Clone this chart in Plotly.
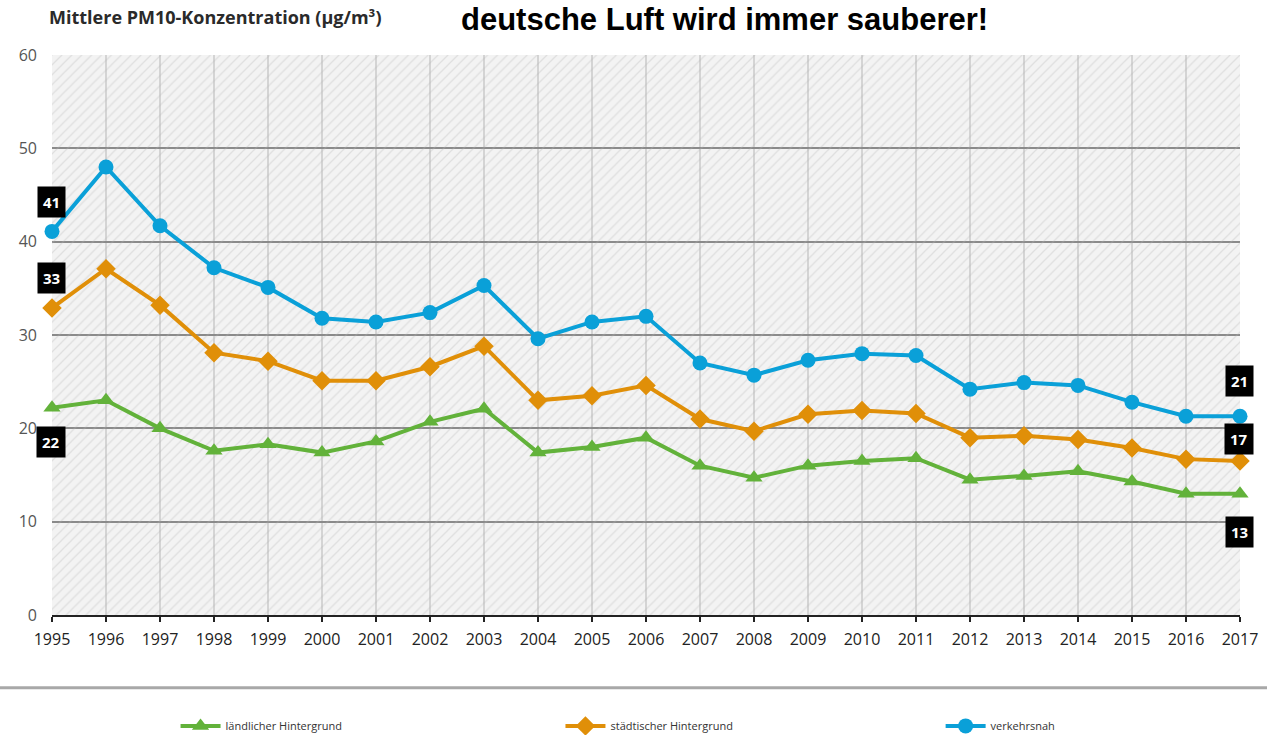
import plotly.graph_objects as go

years = list(range(1995, 2018))
verkehrsnah = [41.1, 48.0, 41.7, 37.2, 35.1, 31.8, 31.4, 32.4, 35.3, 29.6, 31.4, 32.0,
               27.0, 25.7, 27.3, 28.0, 27.8, 24.2, 24.9, 24.6, 22.8, 21.3, 21.3]
staedtisch = [32.9, 37.1, 33.2, 28.1, 27.2, 25.1, 25.1, 26.6, 28.8, 23.0, 23.5, 24.6,
              21.0, 19.7, 21.5, 21.9, 21.6, 19.0, 19.2, 18.8, 17.9, 16.7, 16.5]
laendlich = [22.2, 23.0, 20.0, 17.6, 18.3, 17.4, 18.6, 20.7, 22.1, 17.4, 18.0, 19.0,
             16.0, 14.7, 16.0, 16.5, 16.8, 14.5, 14.9, 15.4, 14.3, 13.0, 13.0]

series_names = ["ländlicher Hintergrund", "städtischer Hintergrund", "verkehrsnah"]
start_labels = ["22", "33", "41"]
end_labels = ["13", "17", "21"]

title_text = "deutsche Luft wird immer sauberer!"
subtitle_text = "Mittlere PM10-Konzentration (µg/m³)"

Y_MIN, Y_MAX = 0, 60
X_MIN, X_MAX = years[0], years[-1]

colors = ["#62b23a", "#e08f08", "#0aa0d8"]
symbols = ["triangle-up", "diamond", "circle"]
data = [laendlich, staedtisch, verkehrsnah]
legend_ids = ["legend", "legend2", "legend3"]
legend_x = [0.104, 0.428, 0.748]

fig = go.Figure()

# hatched plot background
fig.add_trace(go.Scatter(
    x=[X_MIN, X_MAX, X_MAX, X_MIN, X_MIN], y=[Y_MIN, Y_MIN, Y_MAX, Y_MAX, Y_MIN],
    mode="lines", line=dict(width=0), fill="toself",
    fillcolor="rgba(0,0,0,0)",
    fillpattern=dict(shape="/", fgcolor="rgba(180,180,180,0.65)", bgcolor="rgba(0,0,0,0)",
                     size=7, solidity=0.18),
    hoverinfo="skip", showlegend=False,
))

for name, vals, col, sym, lg in zip(series_names, data, colors, symbols, legend_ids):
    fig.add_trace(go.Scatter(
        x=years, y=vals, name=name, mode="lines+markers",
        line=dict(color=col, width=4),
        marker=dict(symbol=sym, size=15, color=col),
        cliponaxis=False, legend=lg,
    ))

start_shifts = [-34, 30, 29]
end_shifts = [-38, 22, 35]
annotations = []
for vals, sl, el, ss, es in zip(data, start_labels, end_labels, start_shifts, end_shifts):
    for xv, yv, txt, sh in [(years[0], vals[0], sl, ss), (years[-1], vals[-1], el, es)]:
        annotations.append(dict(
            x=xv, y=yv, xref="x", yref="y", text=f"<b>{txt}</b>", showarrow=False,
            yshift=sh, xshift=-1, bgcolor="#000000", borderpad=5,
            font=dict(color="#ffffff", size=15, family="Open Sans"),
        ))

annotations.append(dict(
    x=-0.004, y=1.068, xref="paper", yref="paper", text=f"<b>{subtitle_text}</b>",
    showarrow=False, xanchor="left", yanchor="middle",
    font=dict(size=18, color="#2a2a2a", family="Open Sans"),
))
annotations.append(dict(
    x=0.566, y=1.098, xref="paper", yref="paper", text=f"<b>{title_text}</b>",
    showarrow=False, xanchor="center", yanchor="top",
    font=dict(size=31, color="#000000", family="Liberation Sans"),
))

layout_legends = {}
for lg, lx in zip(legend_ids, legend_x):
    layout_legends[lg] = dict(
        orientation="h", x=lx, xanchor="left", y=-0.198, yanchor="middle",
        font=dict(size=11, color="#333333", family="Open Sans"),
        bgcolor="rgba(0,0,0,0)", itemwidth=40,
    )

fig.update_layout(
    width=1267, height=735,
    margin=dict(l=52, r=27, t=55, b=120, autoexpand=False),
    paper_bgcolor="#ffffff",
    plot_bgcolor="#f3f3f3",
    annotations=annotations,
    showlegend=True,
    shapes=[dict(type="line", xref="paper", yref="paper", x0=-0.05, x1=1.03,
                 y0=-0.13, y1=-0.13, line=dict(color="#a8a8a8", width=3))],
    xaxis=dict(
        range=[X_MIN, X_MAX], dtick=1, tick0=X_MIN, automargin=False,
        showgrid=True, gridcolor="#d4d4d4", gridwidth=1.5,
        showline=True, linecolor="#222222", linewidth=2,
        ticks="outside", ticklen=5, tickcolor="#222222", tickwidth=2,
        ticklabelstandoff=4,
        tickfont=dict(size=16, color="#222222", family="Open Sans"),
        zeroline=False,
    ),
    yaxis=dict(
        range=[Y_MIN, Y_MAX], dtick=10, automargin=False,
        showgrid=True, gridcolor="#8a8a8a", gridwidth=2,
        zeroline=False, showline=False, ticks="",
        ticklabelstandoff=14,
        tickfont=dict(size=16, color="#555555", family="Open Sans"),
    ),
    **layout_legends,
)

fig.write_html("out.html", config={"displayModeBar": False},
               post_script="document.body.style.margin='0';")
